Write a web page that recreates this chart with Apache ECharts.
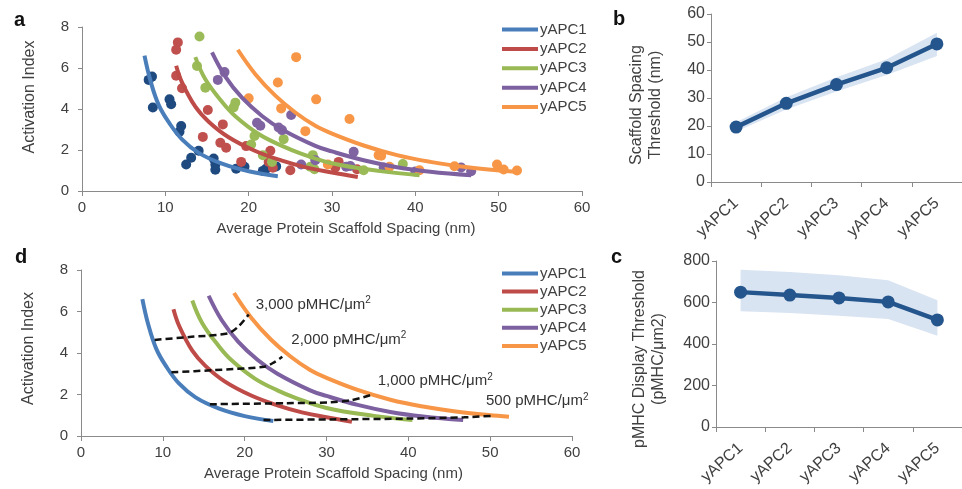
<!DOCTYPE html>
<html>
<head>
<meta charset="utf-8">
<script src="https://cdn.jsdelivr.net/npm/echarts@6/dist/echarts.min.js"></script>
<style>
  html, body { margin: 0; padding: 0; background: #fff; }
  #chart { width: 962px; height: 489px; }
</style>
</head>
<body>
<div id="chart"></div>
<script>
// series names and colours
const apcNames = ['yAPC1', 'yAPC2', 'yAPC3', 'yAPC4', 'yAPC5'];
const lineColors = ['#4A7EBB', '#BE4B48', '#98B954', '#7D60A0', '#F79646'];
const dotColors = ['#1F4A80', '#C0504D', '#9BBB59', '#8064A2', '#F79646'];

// panel a: measured points (spacing nm, activation index)
const pts1 = [[8.0,5.42],[8.4,5.58],[8.5,4.07],[10.5,4.47],[10.7,4.23],[11.9,3.17],[11.7,2.89],[14.0,1.96],[13.1,1.62],[12.5,1.29],[15.8,1.58],[16.0,1.29],[16.0,1.04],[18.5,1.09],[19.5,1.18],[21.7,0.98],[22.1,1.09],[23.3,1.2]];
const pts2 = [[11.5,7.25],[11.3,6.89],[11.3,5.62],[12.0,5.01],[15.1,3.95],[16.9,3.25],[14.5,2.64],[16.6,2.35],[17.3,2.11],[19.7,2.19],[19.1,1.42],[22.6,1.96],[22.4,1.42],[22.9,1.14],[25.0,1.01],[30.8,1.42],[30.4,1.15],[33.0,1.06]];
const pts3 = [[14.1,7.54],[13.8,6.1],[14.8,5.04],[18.4,4.31],[18.2,4.08],[20.7,2.68],[20.3,2.27],[24.2,2.53],[21.7,1.75],[22.8,1.42],[27.7,1.75],[27.4,1.18],[27.9,1.06],[33.8,1.01],[38.5,1.32]];
const pts4 = [[17.1,5.8],[16.3,5.42],[25.1,3.71],[21.0,3.33],[21.4,3.18],[23.6,3.1],[24.0,2.97],[28.0,1.5],[26.3,1.29],[32.6,1.91],[31.7,1.18],[32.2,1.22],[36.2,1.15],[40.0,0.95],[45.5,1.15],[46.7,0.96]];
const pts5 = [[25.7,6.53],[23.5,5.29],[28.1,4.47],[20.0,4.52],[23.9,4.03],[26.8,2.92],[29.5,1.29],[32.1,3.51],[35.6,1.75],[35.9,1.72],[36.9,1.18],[40.5,1.01],[44.7,1.21],[49.8,1.29],[50.6,1.05],[52.2,1.0]];

// fitted curves (a and d)
const fit1 = [[7.5,6.6],[8.2,5.4],[9.2,4.2],[10.5,3.3],[12.0,2.52],[14.0,1.86],[16.8,1.33],[20.0,0.96],[23.5,0.72]];
const fit2 = [[11.3,6.11],[12.0,5.3],[13.6,4.11],[15.2,3.38],[17.6,2.62],[20.8,1.95],[24.0,1.48],[27.0,1.14],[30.0,0.9],[33.1,0.68]];
const fit3 = [[13.6,6.53],[14.8,5.45],[16.8,4.35],[18.4,3.65],[21.2,2.78],[24.0,2.2],[26.2,1.84],[30.0,1.35],[35.8,0.97],[40.5,0.77]];
const fit4 = [[15.6,6.76],[17.2,5.58],[19.2,4.55],[21.6,3.66],[24.0,3.0],[28.0,2.2],[30.0,1.93],[33.8,1.5],[37.8,1.16],[41.8,0.94],[46.7,0.77]];
const fit5 = [[18.7,6.89],[20.8,5.7],[23.2,4.65],[25.6,3.83],[28.0,3.18],[30.0,2.8],[33.8,2.22],[37.8,1.75],[41.8,1.42],[45.8,1.18],[49.8,1.01],[52.3,0.93]];

// panel d: iso-density lines
const iso3000 = [[9.0,4.63],[13.5,4.78],[18.0,4.95],[19.3,5.3],[20.5,5.86]];
const iso2000 = [[11.05,3.07],[16.0,3.17],[22.4,3.34],[23.6,3.55],[24.6,3.82]];
const iso1000 = [[15.75,1.53],[25.0,1.58],[30.4,1.62],[33.1,1.73],[35.4,1.97]];
const iso500 = [[22.3,0.77],[30.5,0.8],[40.0,0.84],[46.8,0.9],[50.1,0.97]];
const isoLabels = ['3,000', '2,000', '1,000', '500'];

// panel b: scaffold spacing threshold (nm)
const spacingMean = [19.6, 28.1, 34.8, 40.8, 49.3];
const spacingLow = [18.0, 25.9, 32.3, 38.2, 45.0];
const spacingHigh = [21.3, 30.3, 37.4, 43.8, 53.3];

// panel c: pMHC display threshold
const pmhcMean = [650, 636, 622, 603, 516];
const pmhcLow = [558, 550, 536, 520, 440];
const pmhcHigh = [758, 747, 731, 707, 611];

const FONT = '"Liberation Sans", Arial, sans-serif';
const TXT = '#404040';
const AXIS = '#8a8a8a';

const chart = echarts.init(document.getElementById('chart'));

function valueX(gridIndex, namePad) {
    return {
        gridIndex, type: 'value', min: 0, max: 60, interval: 10,
        name: 'Average Protein Scaffold Spacing (nm)', nameLocation: 'middle', nameGap: 30,
        nameTextStyle: { fontSize: 15, color: TXT, fontFamily: FONT, padding: namePad },
        axisLine: { show: true, lineStyle: { color: AXIS } },
        axisTick: { show: true, length: 5, lineStyle: { color: AXIS } },
        axisLabel: { fontSize: 15, color: TXT, fontFamily: FONT, margin: 9 },
        splitLine: { show: false }
    };
}

function valueY(gridIndex, namePad) {
    return {
        gridIndex, type: 'value', min: 0, max: 8, interval: 2,
        name: 'Activation Index', nameLocation: 'middle', nameGap: 44,
        nameTextStyle: { fontSize: 16, color: TXT, fontFamily: FONT, padding: namePad },
        axisLine: { show: true, lineStyle: { color: AXIS } },
        axisTick: { show: true, length: 4, lineStyle: { color: AXIS } },
        axisLabel: { fontSize: 15, color: TXT, fontFamily: FONT, margin: 13 },
        splitLine: { show: false }
    };
}

function catX(gridIndex) {
    return {
        gridIndex, type: 'category', data: apcNames,
        axisLine: { show: true, lineStyle: { color: AXIS } },
        axisTick: { show: true, length: 5, lineStyle: { color: AXIS } },
        axisLabel: { fontSize: 16, color: TXT, fontFamily: FONT, rotate: 42, margin: 19, interval: 0 },
        splitLine: { show: false }
    };
}

function catY(gridIndex, max, interval, name, nameGap, namePad) {
    return {
        gridIndex, type: 'value', min: 0, max, interval,
        name, nameLocation: 'middle', nameGap,
        nameTextStyle: { fontSize: 16, lineHeight: 19, color: TXT, fontFamily: FONT, padding: namePad },
        axisLine: { show: true, lineStyle: { color: AXIS } },
        axisTick: { show: true, length: 4, lineStyle: { color: AXIS } },
        axisLabel: { fontSize: 16, color: TXT, fontFamily: FONT, margin: 6 },
        splitLine: { show: false }
    };
}

const fits = [fit1, fit2, fit3, fit4, fit5];
const pts = [pts1, pts2, pts3, pts4, pts5];
const series = [];

// panel a: points then curves
pts.forEach((d, i) => {
    series.push({
        name: apcNames[i] + ' data', type: 'scatter', xAxisIndex: 0, yAxisIndex: 0,
        data: d, symbolSize: 10, itemStyle: { color: dotColors[i], opacity: 1 }, z: 2
    });
});
[0, 2].forEach(axis => {
    fits.forEach((d, i) => {
        series.push({
            name: apcNames[i], type: 'line', xAxisIndex: axis, yAxisIndex: axis,
            data: d, smooth: 0.4, symbol: 'none', z: 3,
            lineStyle: { color: lineColors[i], width: 4 }, itemStyle: { color: lineColors[i] }
        });
    });
});

// panel d: dashed iso-density lines with end labels
[iso3000, iso2000, iso1000, iso500].forEach((d, i) => {
    const offsets = [[-1, -10], [1, -17], [-1, -14], [-13, -15]];
    series.push({
        name: isoLabels[i] + ' pMHC', type: 'line', xAxisIndex: 2, yAxisIndex: 2,
        data: d, smooth: 0.3, symbol: 'none', z: 4,
        lineStyle: { color: '#111', width: 2.5, type: [7, 4] },
        endLabel: {
            show: true, offset: offsets[i],
            formatter: '{t|' + isoLabels[i] + ' pMHC/μm}{s|2}',
            rich: {
                t: { fontSize: 15, color: '#333', fontFamily: FONT, lineHeight: 18 },
                s: { fontSize: 10, color: '#333', fontFamily: FONT, lineHeight: 10, verticalAlign: 'top' }
            }
        }
    });
});

// panels b and c: band (stacked) + mean line
function bandSeries(axis, low, high, mean, key, color, band) {
    series.push({
        name: key + ' low', type: 'line', xAxisIndex: axis, yAxisIndex: axis,
        data: low, stack: key, symbol: 'none', lineStyle: { opacity: 0 }, z: 1
    });
    series.push({
        name: key + ' band', type: 'line', xAxisIndex: axis, yAxisIndex: axis,
        data: high.map((v, i) => v - low[i]), stack: key, symbol: 'none',
        lineStyle: { opacity: 0 }, areaStyle: { color: band, opacity: 1 }, z: 1
    });
    series.push({
        name: key, type: 'line', xAxisIndex: axis, yAxisIndex: axis,
        data: mean, symbol: 'circle', symbolSize: 13, z: 3,
        lineStyle: { color, width: 4.5 }, itemStyle: { color }
    });
}
bandSeries(1, spacingLow, spacingHigh, spacingMean, 'spacing', '#24558C', '#D9E4F2');
bandSeries(3, pmhcLow, pmhcHigh, pmhcMean, 'pmhc', '#24558C', '#D9E4F2');

const legendBase = {
    orient: 'vertical', data: apcNames, itemWidth: 36, itemHeight: 14,
    icon: 'path://M0,6 L36,6 L36,10 L0,10 Z',
    textStyle: { fontSize: 15, color: TXT, fontFamily: FONT, padding: [0, 0, 0, -3] }
};

const letter = (text, left, top) => ({
    text, left, top, textStyle: { fontSize: 20, fontWeight: 'bold', color: '#111', fontFamily: FONT }
});

const option = {
    animation: false,
    backgroundColor: '#fff',
    title: [letter('a', 9, 5), letter('b', 608, 4), letter('d', 10, 242), letter('c', 606, 242)],
    legend: [
        Object.assign({}, legendBase, { left: 497, top: 17, itemGap: 4.4 }),
        Object.assign({}, legendBase, { left: 497, top: 261, itemGap: 3.1 })
    ],
    grid: [
        { left: 82, top: 27, width: 500, height: 164 },
        { left: 711, top: 14, width: 258, height: 168 },
        { left: 81, top: 270, width: 491, height: 166 },
        { left: 716, top: 261, width: 257, height: 166 }
    ],
    xAxis: [valueX(0, [0, 0, 0, 28]), catX(1), valueX(2, [0, 0, 0, 14]), catX(3)],
    yAxis: [
        valueY(0, [0, 0, 0, 24]),
        catY(1, 60, 10, 'Scaffold Spacing\nThreshold (nm)', 46, [0, 14, 0, 0]),
        valueY(2, [0, 0, 0, 9]),
        catY(3, 800, 200, 'pMHC Display Threshold\n(pMHC/μm2)', 48, [0, 30, 0, 0])
    ],
    series
};

chart.setOption(option);
</script>
</body>
</html>
